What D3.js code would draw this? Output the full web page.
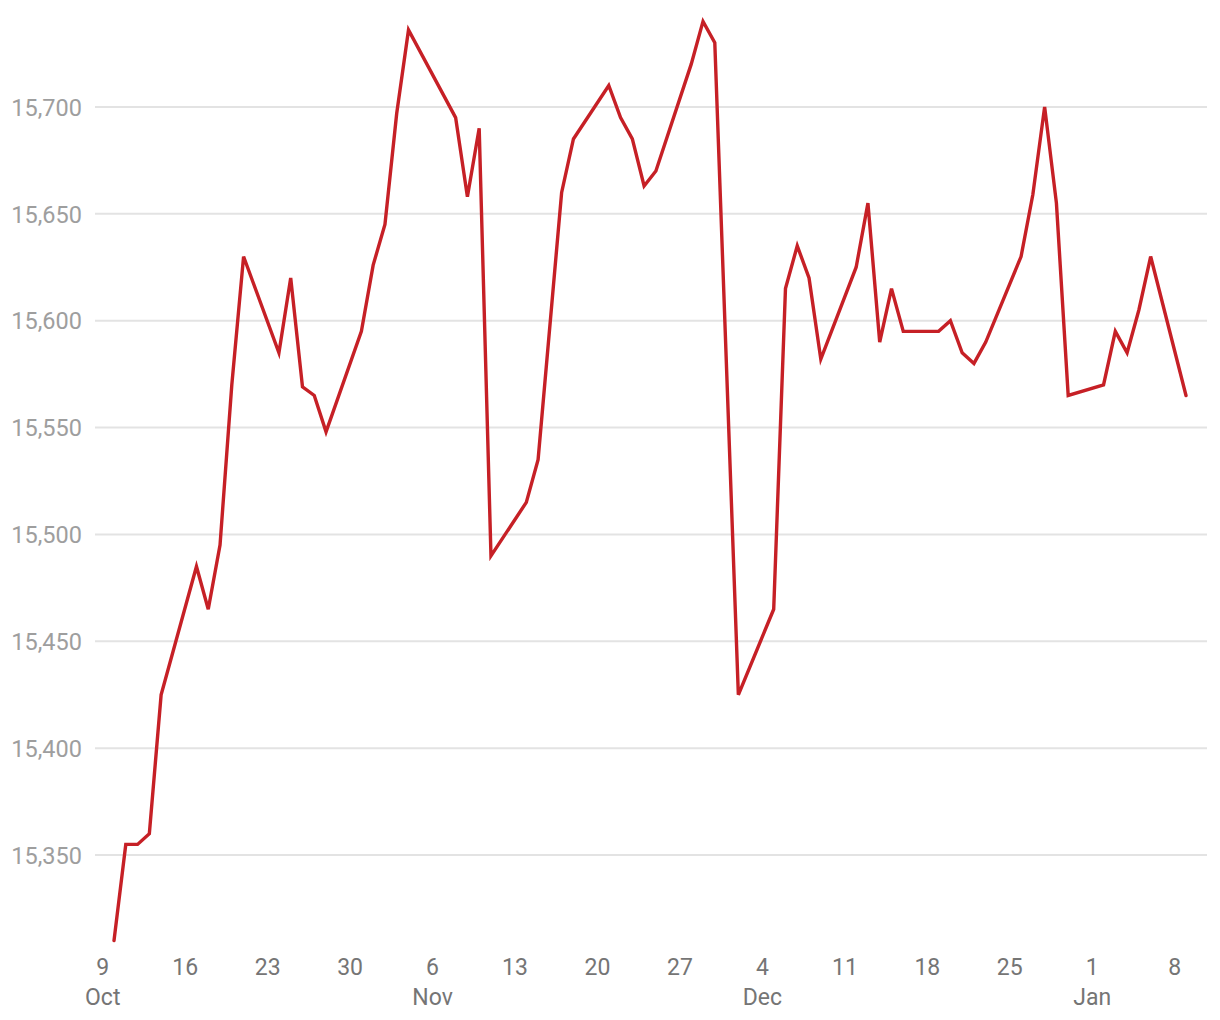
<!DOCTYPE html>
<html>
<head>
<meta charset="utf-8">
<script src="https://cdn.jsdelivr.net/npm/d3@7"></script>
<style>
  html, body { margin: 0; padding: 0; background: #fff; }
  svg { display: block; font-family: Roboto, "Noto Sans", sans-serif; }
</style>
</head>
<body>
<svg id="chart" width="1220" height="1020"></svg>
<script>
// ---- data ----
const dates = [
  "2022-10-10","2022-10-11","2022-10-12","2022-10-13","2022-10-14",
  "2022-10-17","2022-10-18","2022-10-19","2022-10-20","2022-10-21",
  "2022-10-24","2022-10-25","2022-10-26","2022-10-27","2022-10-28",
  "2022-10-31","2022-11-01","2022-11-02","2022-11-03","2022-11-04",
  "2022-11-08","2022-11-09","2022-11-10","2022-11-11",
  "2022-11-14","2022-11-15","2022-11-17","2022-11-18",
  "2022-11-21","2022-11-22","2022-11-23","2022-11-24","2022-11-25",
  "2022-11-28","2022-11-29","2022-11-30","2022-12-02",
  "2022-12-05","2022-12-06","2022-12-07","2022-12-08","2022-12-09",
  "2022-12-12","2022-12-13","2022-12-14","2022-12-15","2022-12-16",
  "2022-12-19","2022-12-20","2022-12-21","2022-12-22","2022-12-23",
  "2022-12-26","2022-12-27","2022-12-28","2022-12-29","2022-12-30",
  "2023-01-02","2023-01-03","2023-01-04","2023-01-05","2023-01-06",
  "2023-01-09"
];
const values = [
  15310, 15355, 15355, 15360, 15425,
  15485, 15465, 15495, 15570, 15630,
  15585, 15620, 15569, 15565, 15548,
  15595, 15626, 15645, 15697, 15736,
  15695, 15658, 15690, 15490,
  15515, 15535, 15660, 15685,
  15710, 15695, 15685, 15663, 15670,
  15720, 15740, 15730, 15425,
  15465, 15615, 15635, 15620, 15582,
  15625, 15655, 15590, 15615, 15595,
  15595, 15600, 15585, 15580, 15590,
  15630, 15659, 15700, 15655, 15565,
  15570, 15595, 15585, 15605, 15630,
  15565
];
const yTicks = [15350, 15400, 15450, 15500, 15550, 15600, 15650, 15700];
const xTicks = [
  "2022-10-09","2022-10-16","2022-10-23","2022-10-30",
  "2022-11-06","2022-11-13","2022-11-20","2022-11-27",
  "2022-12-04","2022-12-11","2022-12-18","2022-12-25",
  "2023-01-01","2023-01-08"
];
const yDomain = [15300, 15750];

// ---- layout ----
const parse = d3.timeParse("%Y-%m-%d");
const data = dates.map((d, i) => ({ date: parse(d), value: values[i] }));
const tickDates = xTicks.map(parse);

const gridLeft = 95, gridRight = 1207;
const x = d3.scaleTime()
  .domain(d3.extent(data, d => d.date))
  .range([114, 1186]);
const y = d3.scaleLinear().domain(yDomain).range([962, 0]);

const svg = d3.select("#chart");

// gridlines
svg.append("g").selectAll("line")
  .data(yTicks)
  .join("line")
  .attr("x1", gridLeft).attr("x2", gridRight)
  .attr("y1", d => y(d)).attr("y2", d => y(d))
  .attr("stroke", "#e3e3e3")
  .attr("stroke-width", 2);

// y axis labels
const yAxis = d3.axisLeft(y).tickValues(yTicks).tickSize(0).tickPadding(0)
  .tickFormat(d3.format(","));
const gy = svg.append("g").attr("transform", "translate(82,0)").call(yAxis);
gy.select(".domain").remove();
gy.selectAll("text")
  .attr("fill", "#9e9e9e")
  .attr("font-size", 23.5)
  .attr("font-family", "Roboto, sans-serif")
  .attr("dy", "0.35em");

// x axis labels
const xAxis = d3.axisBottom(x).tickValues(tickDates).tickSize(0).tickPadding(0)
  .tickFormat(d3.timeFormat("%-d"));
const gx = svg.append("g").attr("transform", "translate(0,0)").call(xAxis);
gx.select(".domain").remove();
gx.selectAll("text")
  .attr("fill", "#757575")
  .attr("font-size", 23)
  .attr("font-family", "Roboto, sans-serif")
  .attr("y", 975)
  .attr("dy", 0);
const monthFmt = d3.timeFormat("%b");
let lastMonth = -1;
gx.selectAll(".tick").each(function(d) {
  const m = d.getMonth();
  if (m !== lastMonth) {
    lastMonth = m;
    d3.select(this).append("text")
      .attr("fill", "#757575")
      .attr("font-size", 23)
      .attr("font-family", "Roboto, sans-serif")
      .attr("text-anchor", "middle")
      .attr("y", 1005)
      .text(monthFmt(d));
  }
});

// line
const line = d3.line().x(d => x(d.date)).y(d => y(d.value));
svg.append("path")
  .datum(data)
  .attr("d", line)
  .attr("fill", "none")
  .attr("stroke", "#c62026")
  .attr("stroke-width", 3.4)
  .attr("stroke-linejoin", "miter")
  .attr("stroke-linecap", "round");
</script>
</body>
</html>
